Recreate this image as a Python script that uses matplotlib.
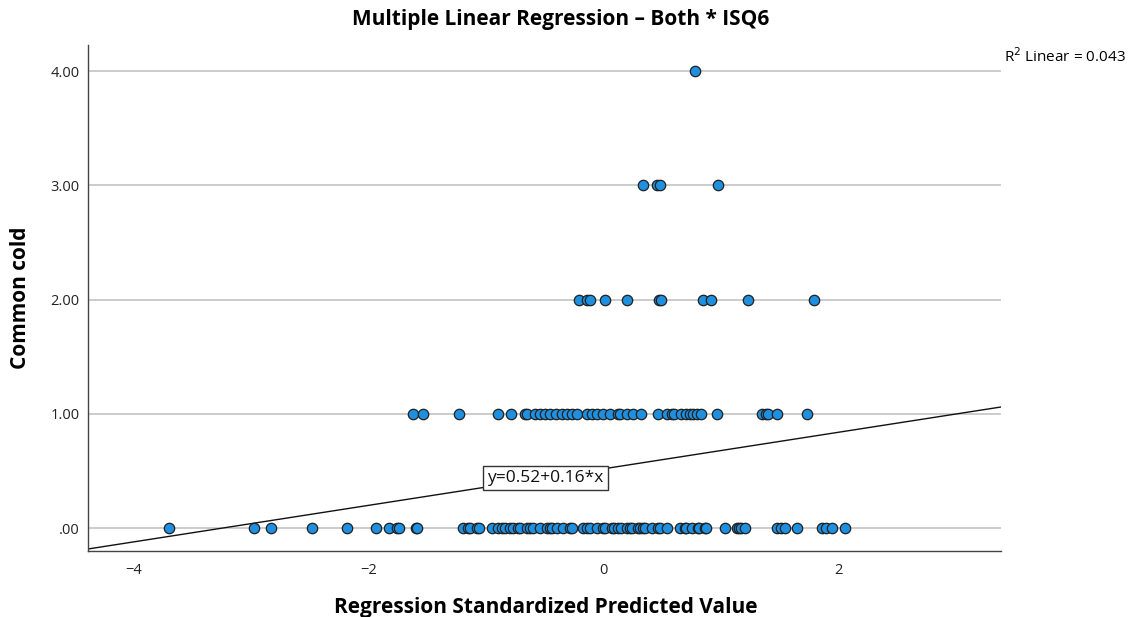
import matplotlib
matplotlib.use("Agg")
import matplotlib.pyplot as plt
import numpy as np

# Regression standardized predicted values, grouped by observed "Common cold" score
pred_cold0 = [-3.70, -2.98, -2.83, -2.48, -2.19, -1.94, -1.83, -1.76, -1.74, -1.60,
              -1.59, -1.20, -1.16, -1.14, -1.08, -1.06, -0.95, -0.90, -0.87, -0.84,
              -0.80, -0.77, -0.73, -0.71, -0.65, -0.63, -0.60, -0.54, -0.48, -0.46,
              -0.44, -0.40, -0.35, -0.29, -0.27, -0.18, -0.14, -0.12, -0.06, -0.01,
              0.01, 0.07, 0.09, 0.12, 0.15, 0.20, 0.22, 0.24, 0.29, 0.31,
              0.33, 0.35, 0.41, 0.46, 0.48, 0.54, 0.65, 0.69, 0.70, 0.75,
              0.80, 0.81, 0.86, 0.87, 1.03, 1.13, 1.15, 1.17, 1.20, 1.47,
              1.51, 1.54, 1.64, 1.86, 1.89, 1.94, 2.05]
pred_cold1 = [-1.62, -1.54, -1.23, -0.90, -0.79, -0.67, -0.65, -0.59, -0.54, -0.50,
              -0.46, -0.41, -0.36, -0.31, -0.27, -0.23, -0.14, -0.10, -0.06, -0.01,
              0.05, 0.12, 0.14, 0.20, 0.25, 0.32, 0.46, 0.54, 0.58, 0.60,
              0.66, 0.70, 0.73, 0.76, 0.79, 0.83, 0.96, 1.35, 1.38, 1.40,
              1.47, 1.73]
pred_cold2 = [-0.21, -0.14, -0.12, 0.01, 0.20, 0.47, 0.49, 0.84, 0.91, 1.23, 1.79]
pred_cold3 = [0.33, 0.45, 0.48, 0.97]
pred_cold4 = [0.78]

cold_levels = [0.0, 1.0, 2.0, 3.0, 4.0]
groups = [pred_cold0, pred_cold1, pred_cold2, pred_cold3, pred_cold4]

# Fit line reported by the model
intercept = 0.52
slope = 0.16
r_squared = 0.043

x_ticks = [-4, -2, 0, 2]
y_ticks = [0, 1, 2, 3, 4]
y_ticklabels = [".00", "1.00", "2.00", "3.00", "4.00"]

x_vals = np.concatenate([np.asarray(g) for g in groups])
y_vals = np.concatenate([np.full(len(g), lvl) for g, lvl in zip(groups, cold_levels)])

plt.rcParams['font.family'] = ['Open Sans', 'DejaVu Sans']

W, H = 1134, 617
fig = plt.figure(figsize=(W / 100, H / 100), dpi=100)
ax = fig.add_axes([88 / W, 1 - 551 / H, (1001 - 88) / W, (551 - 45) / H])

xlim = (-4.39, 3.38)
ylim = (-0.20, 4.23)
ax.set_xlim(*xlim)
ax.set_ylim(*ylim)

# horizontal reference lines at each tick
for yt in y_ticks:
    ax.axhline(yt, color="#c8c8c8", lw=1.3, zorder=0)

# regression line across the whole x range
xl = np.array(xlim)
ax.plot(xl, intercept + slope * xl, color="#111111", lw=1.0, zorder=1)

ax.scatter(x_vals, y_vals, s=56, facecolor="#1f8fe0", edgecolor="#202020",
           linewidth=0.9, zorder=3)

# equation label sitting on the line
lx = -0.50
ax.text(lx, intercept + slope * lx, f"y={intercept:.2f}+{slope:.2f}*x",
        ha="center", va="center", fontsize=12.5, color="#111111", zorder=4,
        bbox=dict(boxstyle="square,pad=0.25", facecolor="white",
                  edgecolor="#333333", linewidth=1.0))

ax.set_xticks(x_ticks)
ax.set_xticklabels([f"\u2212{abs(t)}" if t < 0 else str(t) for t in x_ticks])
ax.set_yticks(y_ticks)
ax.set_yticklabels(y_ticklabels)
ax.tick_params(axis="both", length=0, labelsize=10.5, colors="#222222", pad=6)
ax.tick_params(axis="x", pad=9)

for side in ("top", "right"):
    ax.spines[side].set_visible(False)
for side in ("left", "bottom"):
    ax.spines[side].set_color("#444444")
    ax.spines[side].set_linewidth(1.0)

ax.set_xlabel("Regression Standardized Predicted Value", fontsize=15,
              fontweight="bold")
ax.xaxis.set_label_coords((546 - 88) / (1001 - 88), -(607 - 551) / (551 - 45))
ax.xaxis.label.set_verticalalignment("center")
ax.set_ylabel("Common cold", fontsize=15, fontweight="bold")
ax.yaxis.set_label_coords(-(88 - 21) / (1001 - 88), 0.5)
ax.yaxis.label.set_verticalalignment("center")

fig.text(561 / W, 1 - 20 / H, "Multiple Linear Regression \u2013 Both * ISQ6",
         ha="center", va="center", fontsize=15, fontweight="bold")
fig.text(1004 / W, 1 - 57 / H, f"R$^2$ Linear = {r_squared:.3f}",
         ha="left", va="center", fontsize=11)

fig.savefig("out.png", dpi=100, facecolor="white")
